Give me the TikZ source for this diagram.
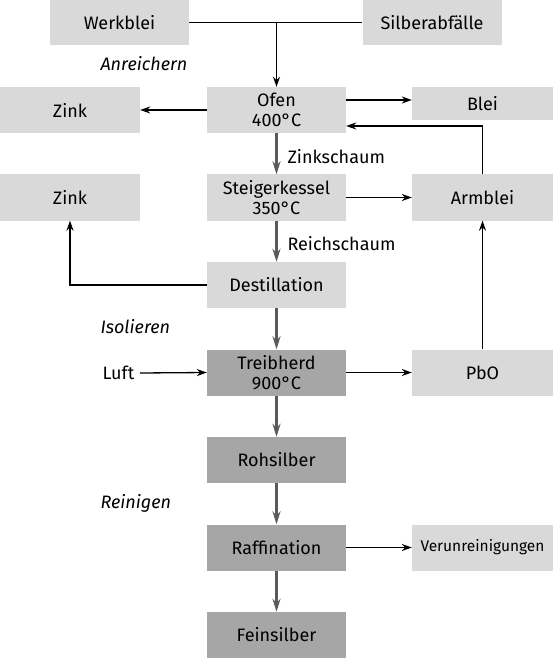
\documentclass[tikz,border=0pt]{standalone}
\usepackage{fontspec}
\setmainfont{Fira Sans}
\usetikzlibrary{arrows.meta}
\definecolor{boxlight}{RGB}{217,217,217}
\definecolor{boxdark}{RGB}{166,166,166}
\definecolor{flowgray}{RGB}{90,90,90}

\begin{document}
\begin{tikzpicture}[x=1pt,y=-1pt,
    box/.style={fill=boxlight, minimum width=139pt, minimum height=46pt,
        inner sep=0pt, align=center, font=\fontsize{18}{20}\selectfont},
    darkbox/.style={box, fill=boxdark},
    sidebox/.style={box, minimum width=141pt},
    stage/.style={anchor=west, font=\fontsize{18}{20}\selectfont\itshape},
    note/.style={anchor=west, font=\fontsize{18}{20}\selectfont},
    feed/.style={-{Stealth[length=10pt,width=7pt]}, line width=1.3pt},
    flow/.style={-{Stealth[length=13pt,width=8pt]}, line width=2.8pt, flowgray},
]
    \useasboundingbox (0,0) rectangle (553,660);

    % Inputs
    \node[box] (wb) at (119.5,22.5) {Werkblei};
    \node[box] (sa) at (432,22.5) {Silberabfälle};
    \node[stage] (anr) at (97,64) {Anreichern};

    % Ofen row
    \node[box] (ofen) at (276.5,110) {Ofen\\400°C};
    \node[box, minimum width=140pt] (zinka) at (70,110) {Zink};
    \node[sidebox, minimum height=33pt] (blei) at (482.5,103.5) {Blei};
    \node[note] (zs) at (284,157) {Zinkschaum};

    % Steigerkessel row
    \node[box] (steiger) at (276.5,197.5) {Steigerkessel\\350°C};
    \node[box, minimum width=140pt] (zinkb) at (70,197.5) {Zink};
    \node[sidebox] (armblei) at (482.5,197.5) {Armblei};
    \node[note] (rs) at (284,244) {Reichschaum};

    % Destillation
    \node[box] (dest) at (276.5,285) {Destillation};
    \node[stage] (iso) at (97,327) {Isolieren};

    % Treibherd row
    \node[darkbox] (treib) at (276.5,372.5) {Treibherd\\900°C};
    \node[note] (luft) at (99,373) {Luft};
    \node[sidebox] (pbo) at (482.5,372.5) {PbO};

    % Silver
    \node[darkbox] (roh) at (276.5,460) {Rohsilber};
    \node[stage] (rein) at (97,503) {Reinigen};
    \node[darkbox] (raff) at (276.5,547.5) {Raffination};
    \node[sidebox, font=\fontsize{15.5}{18}\selectfont] (verun) at (482.5,547.5) {Verunreinigungen};
    \node[darkbox] (fein) at (276.5,635) {Feinsilber};

    % Connectors
    \coordinate (merge) at (wb.east -| ofen.north);
    \draw[line width=1.3pt] (wb.east) -- (sa.west);
    \draw[feed] (merge) -- (ofen.north);
    \draw[feed] (ofen.west) -- (zinka.east);
    \draw[feed] ([yshift=10pt]ofen.east) -- ([yshift=10pt]ofen.east -| blei.west);
    \draw[feed] (armblei.north) |- ([yshift=-16pt]ofen.east);
    \draw[flow] (ofen.south) -- (steiger.north);
    \draw[feed] (steiger.east) -- (armblei.west);
    \draw[flow] (steiger.south) -- (dest.north);
    \draw[feed] (dest.west) -| (zinkb.south);
    \draw[flow] (dest.south) -- (treib.north);
    \draw[feed] ([xshift=2pt]luft.east) -- (treib.west);
    \draw[feed] (treib.east) -- (pbo.west);
    \draw[feed] (pbo.north) -- (armblei.south);
    \draw[flow] (treib.south) -- (roh.north);
    \draw[flow] (roh.south) -- (raff.north);
    \draw[feed] (raff.east) -- (verun.west);
    \draw[flow] (raff.south) -- (fein.north);
\end{tikzpicture}
\end{document}
